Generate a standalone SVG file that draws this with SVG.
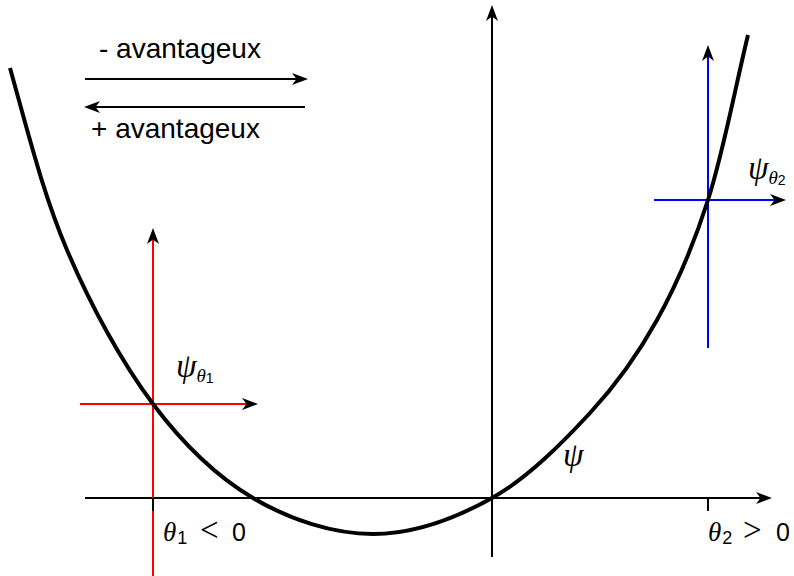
<svg xmlns="http://www.w3.org/2000/svg" width="794" height="576" viewBox="0 0 794 576">
<style>
.ax{stroke:#000;stroke-width:2;fill:none}
.red{stroke:#ff0000;stroke-width:2;fill:none}
.blue{stroke:#0000ff;stroke-width:2;fill:none}
.curve{stroke:#000;stroke-width:4;fill:none;stroke-linecap:butt}
.sans{font-family:"Liberation Sans",Arial,sans-serif;fill:#000}
.ital{font-family:"Liberation Serif","DejaVu Serif",serif;font-style:italic;fill:#000}
.ser{font-family:"Liberation Serif","DejaVu Serif",serif;fill:#000}
</style>
<defs>
<marker id="ah" markerUnits="userSpaceOnUse" markerWidth="18" markerHeight="14" refX="10" refY="6" orient="auto" overflow="visible">
<path d="M0,0 L16,6 L0,12 L4.5,6 Z" fill="#000"/>
</marker>
</defs>
<rect width="794" height="576" fill="#fff"/>
<g id="legend">
<text class="sans" x="99" y="58" font-size="28">- avantageux</text>
<line class="ax" x1="85" y1="79" x2="302" y2="79" marker-end="url(#ah)"/>
<line class="ax" x1="305" y1="107" x2="90" y2="107" marker-end="url(#ah)"/>
<text class="sans" x="91" y="138" font-size="28">+ avantageux</text>
</g>
<g id="connectors">
<line class="ax" x1="85" y1="498" x2="766" y2="498" marker-end="url(#ah)"/>
<line class="ax" x1="492" y1="557" x2="492" y2="11" marker-end="url(#ah)"/>
<line class="red" x1="153" y1="576" x2="153" y2="234" marker-end="url(#ah)"/>
<line class="red" x1="80" y1="404" x2="252" y2="404" marker-end="url(#ah)"/>
<line class="blue" x1="708" y1="348" x2="708" y2="51" marker-end="url(#ah)"/>
<line class="blue" x1="654" y1="200" x2="780" y2="200" marker-end="url(#ah)"/>
<line class="ax" x1="153" y1="498" x2="153" y2="511"/>
<line class="ax" x1="708" y1="498" x2="708" y2="511"/>
</g>
<g id="psi-curve">
<path class="curve" d="M10,68 C29,136 43.2,194 67,250 C90.8,306 122,362.7 153,404 C184,445.3 216.3,476.3 253,498 C289.7,519.7 333.2,534 373,534 C412.8,534 455.8,518.2 492,498 C528.2,477.8 562.5,442.7 590,413 C617.5,383.3 637.3,355.5 657,320 C676.7,284.5 692.8,247.5 708,200 C723.2,152.5 734.7,90 748,35"/>
<text class="ital" x="563" y="466" font-size="33">ψ</text>
</g>
<g id="label-theta1">
<text x="163" y="541"><tspan class="ital" font-size="27">θ</tspan><tspan class="sans" font-size="18" dx="1" dy="3">1</tspan><tspan class="ser" font-size="33" x="200" y="541">&lt;</tspan><tspan class="sans" font-size="25" x="232" y="541">0</tspan></text>
</g>
<g id="label-theta2">
<text x="708" y="541"><tspan class="ital" font-size="27">θ</tspan><tspan class="sans" font-size="18" dx="1" dy="3">2</tspan><tspan class="ser" font-size="33" x="743" y="541">&gt;</tspan><tspan class="sans" font-size="25" x="776" y="541">0</tspan></text>
</g>
<g id="psi-theta1">
<text x="176" y="377"><tspan class="ital" font-size="33">ψ</tspan><tspan class="ital" font-size="19" dy="5">θ</tspan><tspan class="sans" font-size="14" dy="1">1</tspan></text>
</g>
<g id="psi-theta2">
<text x="748" y="179"><tspan class="ital" font-size="33">ψ</tspan><tspan class="ital" font-size="19" dy="5">θ</tspan><tspan class="sans" font-size="14" dy="1">2</tspan></text>
</g>
</svg>
